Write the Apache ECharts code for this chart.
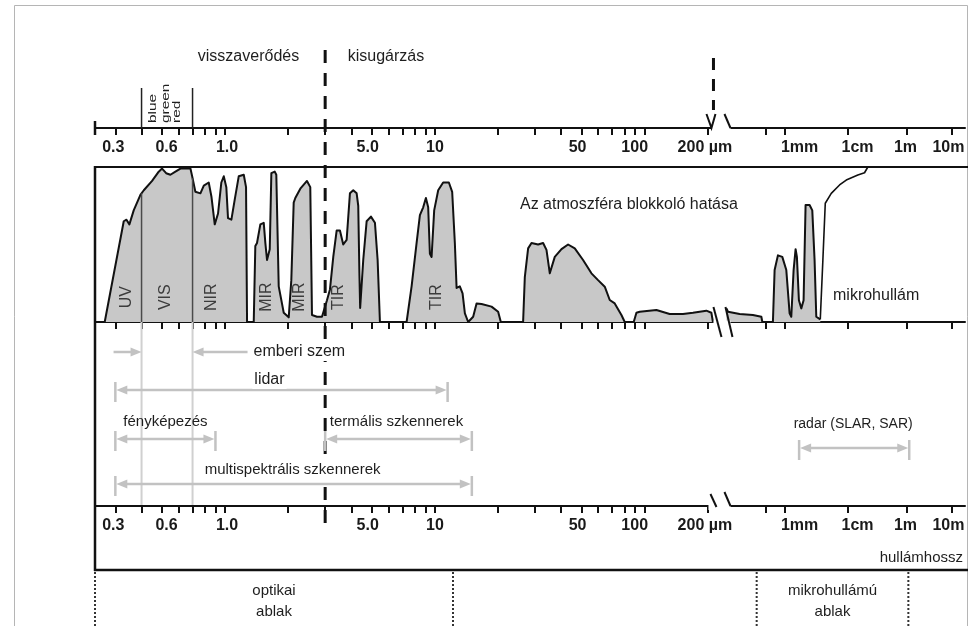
<!DOCTYPE html>
<html>
<head>
<meta charset="utf-8">
<title>Elektromágneses spektrum</title>
<script src="https://cdn.jsdelivr.net/npm/echarts@6.0.0/dist/echarts.min.js"></script>
<style>
html,body{margin:0;padding:0;background:#ffffff;}
#chart{width:973px;height:626px;}
</style>
</head>
<body>
<div id="chart"></div>
<script>
// ===== DATA (wavelength in micrometres, atmospheric transmission in %) =====
const OPT_WL = [0.267,0.329,0.339,0.350,0.367,0.395,0.410,0.449,0.483,0.501,
  0.524,0.549,0.580,0.613,0.684,0.697,0.722,0.763,0.792,0.836,
  0.861,0.893,0.926,0.960,0.986,1.014,1.033,1.072,1.112,1.162,
  1.228,1.259,1.273,1.370,1.394,1.420,1.473,1.529,1.556,1.585,
  1.633,1.662,1.725,1.755,1.802,1.904,2.011,2.069,2.124,2.162,
  2.284,2.457,2.548,2.596,2.742,2.897,2.961,3.060,3.162,3.279,
  3.403,3.528,3.658,3.797,3.937,4.083,4.238,4.313,4.370,4.404,
  4.556,4.729,4.957,5.180,5.335,5.472,7.332,7.745,8.183,8.484,
  8.797,9.061,9.292,9.467,9.645,9.924,10.37,10.95,11.66,12.09,
  12.45,12.69,13.15,13.55,13.90,14.41,15.22,15.80,16.69,18.62,
  20.02,20.62,26.33,26.83,27.82,28.87,31.04,32.79,34.03,35.29,
  37.27,40.12,43.13,46.42,50.84,55.74,59.93,64.50,68.13,71.96,
  77.45,80.32,88.64,91.31,94.67,113.7,131.5,152.2,169.8,196.7,
  207.8,211.4];
const OPT_T = [0,65,66,63,72,82,85,91,97,99,
  96,95,97,99,99,94,84,83,88,90,
  81,63,70,90,94,87,67,66,79,94,
  95,87,0,0,49,51,63,64,51,40,
  47,96,97,95,23,6,3,27,77,80,
  86,91,87,4.5,3.4,3.4,4,14,21,42,
  59,59,50,53,83,85,83,75,30,9,
  40,65,68,64,40,0,0,23,51,69,
  74,80,74,44,42,72,85,90,90,84,
  51,22,23,18.5,5.6,0,3.4,12,11.6,9.9,
  6.6,0,0,29,47.5,51,50,51,46.5,31.4,
  42,47,50,47.5,40,31.4,27,22.8,14.2,12,
  4.5,0,0,6,6.6,7.7,5.2,5.2,6,7.3,
  6,0];
// microwave part (drawn on the right-hand, broken part of the scale)
const MW_WL = [119,126,193,314,427,443,652,694,783,919,1064,1201,1277,1390,1495,1568,1687,1842,2003,2154,2494,2752,2993,3186,3687];
const MW_T  = [8.8,6.6,5.2,4.5,3.4,0,0,33.5,43,42,33.5,5.6,3.4,33.5,47,42,14,8.8,14,75.5,75.5,72,40,3.4,1.7];
const MW_EDGE_WL = [3687,4055,4426,5512,7464,9537,22350,37690,48770];
const MW_EDGE_T  = [1.7,40,76.6,83,88.4,91.6,94.8,96.3,100];

const TICK_UM = [0.3,0.4,0.5,0.6,0.7,0.8,0.9,1,2,3,4,5,6,7,8,9,10,20,30,40,50,60,70,80,90,100,200,500,1000,10000,1000000,10000000];
const LABEL_UM = [0.3,0.6,1,5,10,50,100,200,1000,10000,1000000,10000000];
const LABEL_TEXT = ['0.3','0.6','1.0','5.0','10','50','100','200 µm','1mm','1cm','1m','10m'];

const BAND_NAMES = ['UV','VIS','NIR','MIR','MIR','TIR','TIR'];
const BAND_CENTER_UM = [0.338,0.518,0.858,1.585,2.275,3.49,10.2];
const VIS_EDGES_UM = [0.4, 0.7];
const VIS_COLORS = ['blue','green','red'];

const INSTR_NAMES = ['emberi szem','lidar','fényképezés','termális szkennerek','multispektrális szkennerek','radar (SLAR, SAR)'];
const INSTR_FROM_UM = [0.4, 0.3, 0.3, 3, 0.3, 1700];
const INSTR_TO_UM   = [0.7, 11.5, 0.9, 15, 15, 1150000];

const WINDOW_NAMES = ['optikai\nablak','mikrohullámú\nablak'];
const WINDOW_FROM_UM = [0.24, 360];
const WINDOW_TO_UM   = [12.2, 1100000];

// ===== SCALE (schematic wavelength axis: log scale, broken after 215 µm) =====
const LEFT_END_UM = 215;
const AXIS_MIN_UM = 0.24, AXIS_MAX_UM = 20000000;
const MW_LOG = [2, 3, 4, 6, 7];                          // log10(µm) anchors of the microwave part
const MW_POS = [2.3667, 2.6667, 2.9667, 3.2476, 3.4619]; // their place on the scale (in optical decades)
function mwS(um){
  const L = Math.log10(um);
  let i = 0;
  while (i < MW_LOG.length - 2 && L > MW_LOG[i + 1]) i++;
  const t = (L - MW_LOG[i]) / (MW_LOG[i + 1] - MW_LOG[i]);
  return MW_POS[i] + t * (MW_POS[i + 1] - MW_POS[i]);
}
function sOf(um){ return um <= LEFT_END_UM ? Math.log10(um) : mwS(um); }
const S_MIN = Math.log10(AXIS_MIN_UM), S_MAX = mwS(AXIS_MAX_UM);
function curveAt(um){
  const L = Math.log10(um);
  for (let i = 0; i < OPT_WL.length - 1; i++){
    const a = Math.log10(OPT_WL[i]), b = Math.log10(OPT_WL[i + 1]);
    if (L >= a && L <= b) return OPT_T[i] + (OPT_T[i + 1] - OPT_T[i]) * (L - a) / (b - a);
  }
  return 0;
}

// ===== STYLE / LAYOUT =====
const FONT = '"Liberation Sans", Arial, sans-serif';
const TXT = '#1e1e1e';
const LABEL_NUDGE = [-2,-12,2,-4,0,-4,-10,-3,15,10,-1,-3];
const BAND_LABEL_T = 16;
const INSTR_LAYOUT = [
  {row:30, inward:true, tailL:28, tailR:55, gap:6, size:16, bg:true},
  {row:68, dx:-12, dy:10, size:16, bg:true},
  {row:117, dx:0, dy:17, size:15, bg:false},
  {row:117, dx:-2, dy:17, size:15, bg:true},
  {row:162, dx:-1, dy:14, size:15, bg:true},
  {row:126, dx:-1, dy:24, size:14, bg:false}
];
const ARROW = '#c2c2c2';

const TICK_S = TICK_UM.map(sOf);
const LABEL_S = LABEL_UM.map(sOf);
const rich = {};
LABEL_TEXT.forEach((t, i) => {
  const d = LABEL_NUDGE[i];
  rich['l' + i] = {fontSize:16, fontWeight:'bold', fontFamily:FONT, color:'#1a1a1a',
    padding: d >= 0 ? [0, 0, 0, 2 * d] : [0, -2 * d, 0, 0]};
});
function labelFmt(v){
  for (let i = 0; i < LABEL_S.length; i++) if (Math.abs(LABEL_S[i] - v) < 1e-6) return '{l' + i + '|' + LABEL_TEXT[i] + '}';
  return '';
}
function xAxisCfg(gi, showLabel){
  return {
    type:'value', gridIndex:gi, min:S_MIN, max:S_MAX, position:'bottom',
    axisLine:{show:true, onZero:false, lineStyle:{color:'#111', width:2}},
    axisTick:{show:true, customValues:TICK_S, length:7, inside:false, lineStyle:{color:'#111', width:2}},
    axisLabel:{show:showLabel, customValues:LABEL_S, margin:12, formatter:labelFmt, rich:rich,
      fontSize:16, fontWeight:'bold', fontFamily:FONT, color:'#1a1a1a'},
    splitLine:{show:false}, minorTick:{show:false}
  };
}
const gridBase = {left:95, width:870, containLabel:false, outerBoundsMode:'none'};

const chart = echarts.init(document.getElementById('chart'), null, {renderer:'canvas'});
const option = {
  animation:false,
  backgroundColor:'#ffffff',
  grid:[
    Object.assign({top:167, height:155}, gridBase),
    Object.assign({top:127, height:1}, gridBase),
    Object.assign({top:322, height:184}, gridBase),
    Object.assign({top:570, height:56}, gridBase)
  ],
  xAxis:[
    xAxisCfg(0, false),
    xAxisCfg(1, true),
    xAxisCfg(2, true),
    {type:'value', gridIndex:3, min:S_MIN, max:S_MAX, show:false}
  ],
  yAxis:[
    {type:'value', gridIndex:0, min:0, max:100, show:false},
    {type:'value', gridIndex:1, min:0, max:1, show:false},
    {type:'value', gridIndex:2, min:0, max:184, inverse:true, show:false},
    {type:'value', gridIndex:3, min:0, max:56, inverse:true, show:false}
  ],
  series:[
    {type:'line', name:'optikai áteresztés', xAxisIndex:0, yAxisIndex:0, symbol:'none', silent:true,
      data: OPT_WL.map((w, i) => [Math.log10(w), OPT_T[i]]),
      lineStyle:{color:'#111', width:2, join:'round'}, areaStyle:{color:'#c8c8c8', opacity:1}, z:3},
    {type:'line', name:'mikrohullámú áteresztés', xAxisIndex:0, yAxisIndex:0, symbol:'none', silent:true,
      data: MW_WL.map((w, i) => [mwS(w), MW_T[i]]),
      lineStyle:{color:'#111', width:2, join:'round'}, areaStyle:{color:'#c8c8c8', opacity:1}, z:3},
    {type:'line', name:'mikrohullám', xAxisIndex:0, yAxisIndex:0, symbol:'none', silent:true,
      data: MW_EDGE_WL.map((w, i) => [mwS(w), MW_EDGE_T[i]]),
      lineStyle:{color:'#111', width:1.6, join:'round'}, z:3},
    {type:'custom', name:'VIS határ', xAxisIndex:0, yAxisIndex:0, silent:true, z:4,
      data: VIS_EDGES_UM.map(w => [sOf(w), curveAt(w)]),
      renderItem(params, api){
        const a = api.coord([api.value(0), 0]), b = api.coord([api.value(0), api.value(1)]);
        return {type:'line', shape:{x1:a[0], y1:a[1], x2:b[0], y2:b[1]}, style:{stroke:'#4a4a4a', lineWidth:1.5}};
      }},
    {type:'custom', name:'sávok', xAxisIndex:0, yAxisIndex:0, silent:true, z:5,
      data: BAND_NAMES.map((n, i) => [sOf(BAND_CENTER_UM[i]), BAND_LABEL_T, i]),
      renderItem(params, api){
        const p = api.coord([api.value(0), api.value(1)]);
        return {type:'text', x:p[0], y:p[1], rotation:Math.PI / 2,
          style:{text:BAND_NAMES[api.value(2)], fill:'#3c3c3c', fontSize:16, fontFamily:FONT,
            align:'center', verticalAlign:'middle', textAlign:'center', textVerticalAlign:'middle'}};
      }},
    {type:'custom', name:'segédvonal', xAxisIndex:2, yAxisIndex:2, silent:true, z:2,
      data: VIS_EDGES_UM.map(w => [sOf(w), 0]),
      renderItem(params, api){
        const a = api.coord([api.value(0), 0]), b = api.coord([api.value(0), 183]);
        return {type:'line', shape:{x1:a[0], y1:a[1], x2:b[0], y2:b[1]}, style:{stroke:'#d0d0d0', lineWidth:2}};
      }},
    {type:'custom', name:'eszközök', xAxisIndex:2, yAxisIndex:2, silent:true, z:55,
      encode:{x:[0, 2], y:1},
      data: INSTR_NAMES.map((n, i) => [sOf(INSTR_FROM_UM[i]), INSTR_LAYOUT[i].row, sOf(INSTR_TO_UM[i]), i]),
      renderItem(params, api){
        const i = api.value(3), L = INSTR_LAYOUT[i];
        const a = api.coord([api.value(0), api.value(1)]), b = api.coord([api.value(2), api.value(1)]);
        const y = a[1], x0 = a[0], x1 = b[0];
        const kids = [];
        const head = (tip, dir) => ({type:'polygon', shape:{points:[[tip, y], [tip - dir * 11, y - 4.5], [tip - dir * 11, y + 4.5]]}, style:{fill:ARROW}});
        const seg = (xa, ya, xb, yb) => ({type:'line', shape:{x1:xa, y1:ya, x2:xb, y2:yb}, style:{stroke:ARROW, lineWidth:2.5}});
        const txtStyle = (t, al) => Object.assign({text:t, fill:TXT, fontSize:L.size, fontFamily:FONT, align:al, verticalAlign:'middle', textAlign:al, textVerticalAlign:'middle'},
          L.bg ? {backgroundColor:'#ffffff', padding:[1, 2]} : {});
        if (L.inward){
          kids.push(seg(x0 - L.tailL, y, x0 - 8, y), head(x0, 1));
          kids.push(seg(x1 + L.tailR, y, x1 + 8, y), head(x1, -1));
          kids.push({type:'text', x:x1 + L.tailR + L.gap - 2, y:y, style:txtStyle(INSTR_NAMES[i], 'left')});
        } else {
          kids.push(seg(x0 + 8, y, x1 - 8, y), head(x0 + 1, -1), head(x1 - 1, 1));
          kids.push(seg(x0, y - 8, x0, y + 12), seg(x1, y - 8, x1, y + 12));
          kids.push({type:'text', x:(x0 + x1) / 2 + L.dx, y:y - L.dy, style:txtStyle(INSTR_NAMES[i], 'center')});
        }
        return {type:'group', children:kids};
      }},
    {type:'custom', name:'ablakok', xAxisIndex:3, yAxisIndex:3, silent:true, z:6,
      encode:{x:[0, 2], y:1},
      data: WINDOW_NAMES.map((n, i) => [sOf(WINDOW_FROM_UM[i]), 2, sOf(WINDOW_TO_UM[i]), i]),
      renderItem(params, api){
        const a = api.coord([api.value(0), 2]), b = api.coord([api.value(2), 2]), c = api.coord([api.value(0), 56]);
        const mid = api.coord([api.value(0), 31.5]);
        const dl = x => ({type:'line', shape:{x1:x, y1:a[1], x2:x, y2:c[1]}, style:{stroke:'#333', lineWidth:2, lineDash:[2, 2]}});
        return {type:'group', children:[dl(a[0]), dl(b[0]),
          {type:'text', x:(a[0] + b[0]) / 2, y:mid[1],
            style:{text:WINDOW_NAMES[api.value(3)], fill:TXT, fontSize:15, fontFamily:FONT, lineHeight:21,
              align:'center', verticalAlign:'middle', textAlign:'center', textVerticalAlign:'middle'}}]};
      }}
  ]
};
chart.setOption(option);

// ===== decorations anchored on the scale =====
function X(um){ return chart.convertToPixel({xAxisIndex:0}, sOf(um)); }
const K = '#111';
const ln = (x1, y1, x2, y2, w, extra) => Object.assign({type:'line', silent:true, z:50,
  shape:{x1, y1, x2, y2}, style:Object.assign({stroke:K, lineWidth:w}, extra || {})});
const txt = (t, x, y, size, align, extra) => Object.assign({type:'text', silent:true, z:70, x, y,
  style:{text:t, fill:TXT, fontSize:size, fontFamily:FONT, align, verticalAlign:'middle', textAlign:align, textVerticalAlign:'middle'}}, extra || {});
const bx = X(LEFT_END_UM);
const x3 = X(3);
const v0 = X(VIS_EDGES_UM[0]), v1 = X(VIS_EDGES_UM[1]);
const g = [];
g.push({type:'rect', silent:true, z:1, shape:{x:14.5, y:5.5, width:953, height:700}, style:{fill:'none', stroke:'#b5b5b5', lineWidth:1}});
// panel frame
g.push(ln(95, 167, 968, 167, 2));
g.push(ln(95, 166, 95, 571, 2.5));
g.push(ln(94, 570, 968, 570, 2.5));
g.push(ln(95, 121, 95, 135, 2.5));
// 3 µm divider (reflection / emission)
g.push(ln(x3, 50, x3, 530, 3, {lineDash:[13, 10]}));
// blue / green / red bracket
g.push(ln(v0, 88, v0, 128, 1.5, {stroke:'#222'}));
g.push(ln(v1, 88, v1, 128, 1.5, {stroke:'#222'}));
[0.22, 0.47, 0.70].forEach((f, i) => g.push(txt(VIS_COLORS[i], v0 + f * (v1 - v0), 123, 11, 'left', {rotation:Math.PI / 2, scaleX:1.4})));
// scale break marks
const W = '#ffffff';
g.push({type:'rect', silent:true, z:60, shape:{x:bx - 3, y:124, width:19, height:8}, style:{fill:W}});
g.push({type:'polyline', silent:true, z:61, shape:{points:[[bx - 8, 114], [bx - 3, 128], [bx + 1, 114]]}, style:{stroke:K, lineWidth:2, fill:null}});
g.push(Object.assign(ln(bx + 10, 114, bx + 16, 128, 2), {z:61}));
g.push(ln(bx - 1, 58, bx - 1, 110, 3, {lineDash:[12, 9]}));
g.push({type:'rect', silent:true, z:60, shape:{x:bx - 1, y:320.5, width:17, height:4}, style:{fill:W}});
g.push(Object.assign(ln(bx - 1, 307, bx + 7, 337, 2), {z:61}));
g.push(Object.assign(ln(bx + 11, 307, bx + 18, 337, 2), {z:61}));
g.push({type:'rect', silent:true, z:60, shape:{x:bx - 6, y:502, width:22, height:8}, style:{fill:W}});
g.push(Object.assign(ln(bx - 4, 494, bx + 2, 507, 2), {z:61}));
g.push(Object.assign(ln(bx + 10, 492, bx + 16, 506, 2), {z:61}));
// texts
g.push(txt('visszaverődés', 248.5, 57, 16, 'center'));
g.push(txt('kisugárzás', 386, 57, 16, 'center'));
g.push(txt('Az atmoszféra blokkoló hatása', 520, 205, 16, 'left'));
g.push(txt('mikrohullám', 833, 296, 16, 'left'));
g.push(txt('hullámhossz', 963, 558, 15, 'right'));
chart.setOption({graphic:{elements:g}});
</script>
</body>
</html>
